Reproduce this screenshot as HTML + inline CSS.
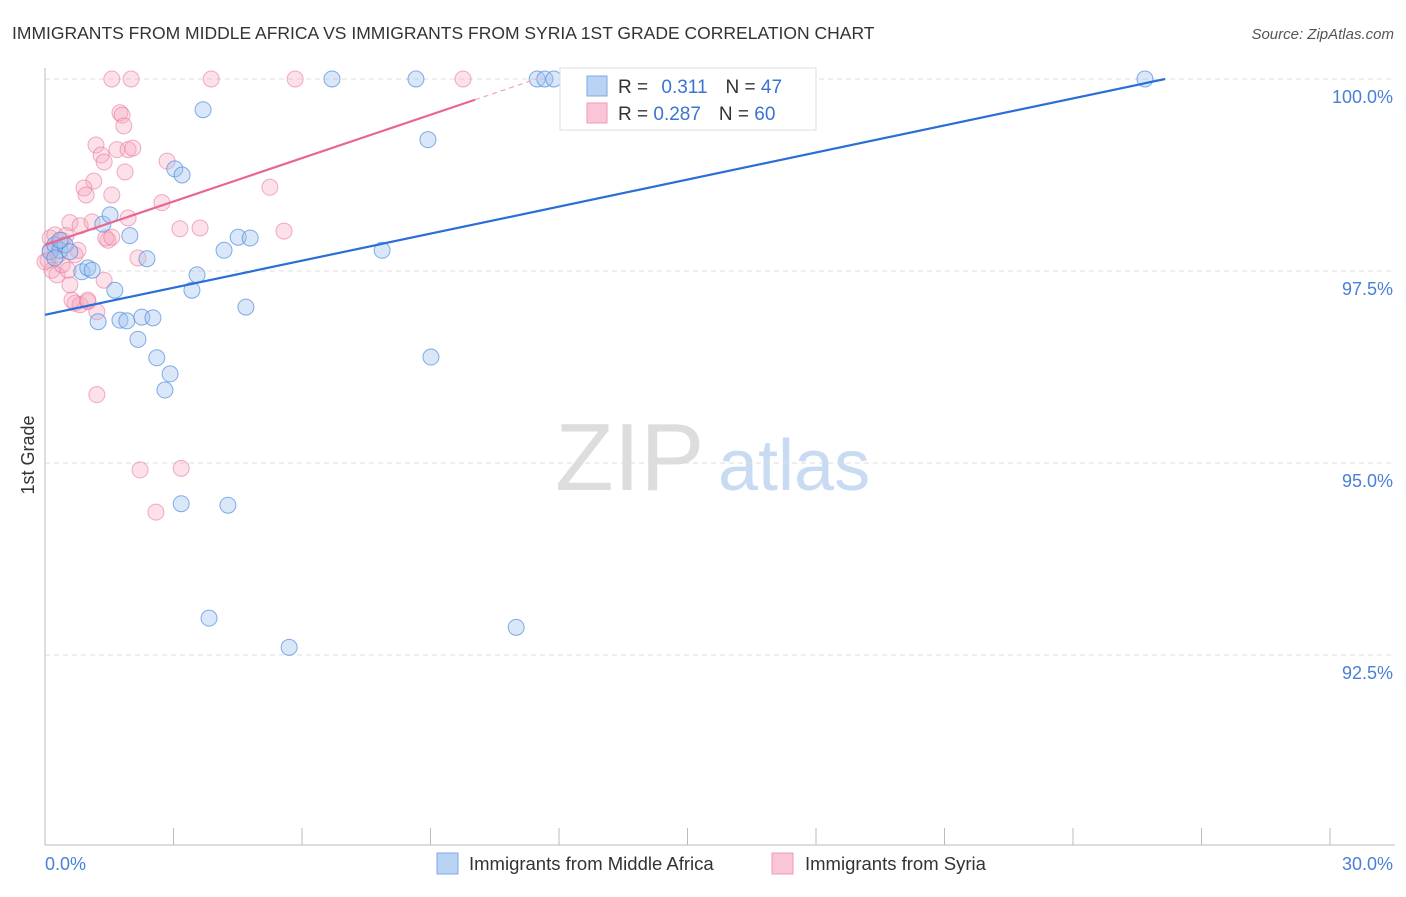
<!DOCTYPE html>
<html><head><meta charset="utf-8"><style>
body{margin:0;background:#fff;font-family:"Liberation Sans",sans-serif;}
svg text{font-family:"Liberation Sans",sans-serif;}
</style></head><body>
<svg id="c" width="1406" height="892">
<text x="12" y="39" font-size="17.5" fill="#333">IMMIGRANTS FROM MIDDLE AFRICA VS IMMIGRANTS FROM SYRIA 1ST GRADE CORRELATION CHART</text>
<text x="1394" y="39" font-size="15" fill="#555" font-style="italic" text-anchor="end">Source: ZipAtlas.com</text>
<text x="34" y="455" font-size="18" fill="#333" text-anchor="middle" transform="rotate(-90 34 455)">1st Grade</text>
<g><text x="555" y="490" font-size="96" fill="#ddd" font-family="Liberation Serif">ZIP</text><text x="718" y="490" font-size="72" fill="#c9dbf2">atlas</text></g>
<g id="grid"></g><g id="axes"></g><g id="pts"></g><g id="lines"></g>
<g>
<rect x="560" y="68" width="256" height="62" fill="#fff" stroke="#ddd"/>
<rect x="587" y="76" width="20" height="20" fill="#b9d3f5" stroke="#7fa8e3"/>
<rect x="587" y="103" width="20" height="20" fill="#fac6d5" stroke="#ee9bb6"/>
<text x="618" y="93" font-size="19" fill="#333">R = <tspan fill="#3a74d0" dx="8">0.311</tspan><tspan dx="18" fill="#333">N = </tspan><tspan fill="#3a74d0">47</tspan></text>
<text x="618" y="120" font-size="19" fill="#333">R = <tspan fill="#3a74d0">0.287</tspan><tspan dx="18" fill="#333">N = </tspan><tspan fill="#3a74d0">60</tspan></text>
</g>
<g>
<rect x="437" y="853" width="21" height="21" fill="#b9d3f5" stroke="#7fa8e3"/>
<text x="469" y="870" font-size="18.5" fill="#333">Immigrants from Middle Africa</text>
<rect x="772" y="853" width="21" height="21" fill="#fac6d5" stroke="#ee9bb6"/>
<text x="805" y="870" font-size="18.5" fill="#333">Immigrants from Syria</text>
</g>
</svg>
<script>
const blueX=[.12,.23,.35,.47,.58,.86,1.00,1.10,1.24,1.35,1.52,1.63,1.75,1.91,1.98,2.17,2.26,2.38,2.52,2.61,2.80,2.92,3.03,3.20,3.18,3.43,3.55,3.69,3.83,4.18,4.27,4.51,4.79,4.69,5.70,6.70,7.87,8.66,8.94,9.01,11.00,11.49,11.67,11.88,25.68,.23,.35];
const blueY=[97.75,97.84,97.77,97.84,97.75,97.49,97.54,97.51,96.84,98.11,98.23,97.25,96.86,96.85,97.96,96.61,96.90,97.66,96.89,96.37,95.95,96.16,98.83,98.75,94.47,97.25,97.45,99.60,92.98,97.77,94.45,97.94,97.93,97.03,92.60,100,97.77,100,99.21,96.38,92.86,100,100,100,100,97.67,97.90];
const pinkX=[1.56,2.01,3.88,5.84,9.76,1.75,1.80,1.84,1.19,1.31,1.38,1.68,1.94,2.05,1.14,.91,.96,1.56,1.87,2.85,2.73,5.25,.58,.82,1.10,1.94,3.15,3.62,5.58,1.47,1.42,1.56,2.17,.12,.23,.07,.16,.28,.40,.54,.70,.77,.58,.70,.82,1.00,1.21,1.38,1.21,2.22,3.18,2.59,.23,.40,.49,.12,.30,0,.63,1.00];
const pinkY=[100,100,100,100,100,99.56,99.53,99.39,99.14,99.01,98.92,99.08,99.08,99.10,98.67,98.58,98.49,98.49,98.79,98.93,98.39,98.59,98.13,98.09,98.14,98.19,98.05,98.06,98.02,97.90,97.93,97.94,97.67,97.93,97.97,97.64,97.51,97.45,97.58,97.51,97.71,97.77,97.32,97.08,97.06,97.10,96.97,97.38,95.89,94.91,94.93,94.36,97.80,97.90,97.96,97.77,97.71,97.62,97.12,97.12];
const yTicks=[100,97.5,95,92.5];
const yTickLabels=["100.0%","97.5%","95.0%","92.5%"];
const xTicks=[0,3,6,9,12,15,18,21,24,27,30];
const xEndLabels=["0.0%","30.0%"];
const blueTrend=[96.93,100.0,26.15]; // y at 0, y at end, end x
const pinkTrend=[97.84,99.73,10.04,11.5];
const sx=v=>45+v*(1330-45)/30, sy=v=>79+(100-v)*76.8;
const NS="http://www.w3.org/2000/svg";
function mk(t,a,p){const e=document.createElementNS(NS,t);for(const k in a)e.setAttribute(k,a[k]);p.appendChild(e);return e;}
const grid=document.getElementById('grid'),axes=document.getElementById('axes'),pts=document.getElementById('pts'),lines=document.getElementById('lines');
yTicks.forEach((v,i)=>{
 const l=mk('line',{x1:45,x2:1395,y1:sy(v),y2:sy(v),stroke:'#ddd','stroke-dasharray':'5,4'},grid);
 
 
 const t=mk('text',{x:1393,y:sy(v)+24,'font-size':18,fill:'#4a7fd6','text-anchor':'end'},grid);t.textContent=yTickLabels[i];
 
 
});
let a=mk('line',{x1:45,x2:45,y1:68,y2:845,stroke:'#bbb'},axes);


a=mk('line',{x1:45,x2:1395,y1:845,y2:845,stroke:'#bbb'},axes);


xTicks.forEach(v=>{const t=mk('line',{x1:sx(v),x2:sx(v),y1:828,y2:845,stroke:'#bbb'},axes);
 
 });
let t=mk('text',{x:45,y:870,'font-size':18,fill:'#4a7fd6'},axes);t.textContent=xEndLabels[0];


t=mk('text',{x:1393,y:870,'font-size':18,fill:'#4a7fd6','text-anchor':'end'},axes);t.textContent=xEndLabels[1];


pinkX.forEach((x,i)=>{const c=mk('circle',{cx:sx(x),cy:sy(pinkY[i]),r:8,fill:'rgba(247,170,192,0.35)',stroke:'rgba(232,120,158,0.6)','stroke-width':1},pts);
 
 });
blueX.forEach((x,i)=>{const c=mk('circle',{cx:sx(x),cy:sy(blueY[i]),r:8,fill:'rgba(160,196,240,0.4)',stroke:'rgba(80,140,220,0.7)','stroke-width':1},pts);
 
 });
let l=mk('line',{x1:sx(0),y1:sy(blueTrend[0]),x2:sx(blueTrend[2]),y2:sy(blueTrend[1]),stroke:'#2a6fd6','stroke-width':2.2},lines);


const ps=(pinkTrend[1]-pinkTrend[0])/pinkTrend[2];
l=mk('line',{x1:sx(0),y1:sy(pinkTrend[0]),x2:sx(pinkTrend[2]),y2:sy(pinkTrend[1]),stroke:'#e8668f','stroke-width':2.2},lines);


l=mk('line',{x1:sx(pinkTrend[2]),y1:sy(pinkTrend[1]),x2:sx(pinkTrend[3]),y2:sy(pinkTrend[0]+ps*pinkTrend[3]),stroke:'#f0a8bf','stroke-width':1.2,'stroke-dasharray':'5,4'},lines);


</script>
</body></html>
